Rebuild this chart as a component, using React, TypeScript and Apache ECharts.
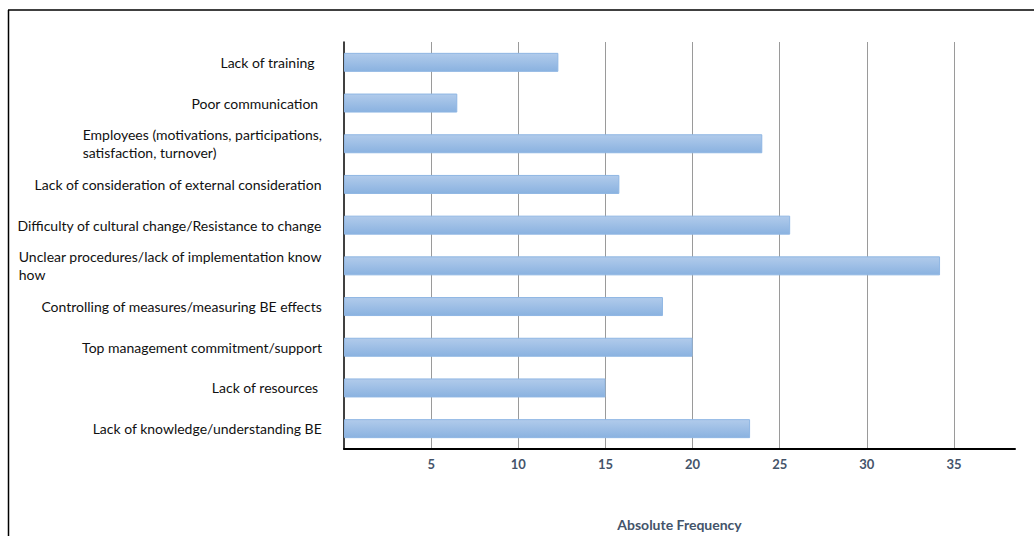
import React, { useEffect, useRef } from "react";
import * as echarts from "echarts";

const categories = [
  "Lack of training  ",
  "Poor communication ",
  "Employees (motivations, participations,\nsatisfaction, turnover)",
  "Lack of consideration of external consideration",
  "Difficulty of cultural change/Resistance to change",
  "Unclear procedures/lack of implementation know\nhow",
  "Controlling of measures/measuring BE effects",
  "Top management commitment/support",
  "Lack of resources ",
  "Lack of knowledge/understanding BE",
];
const frequencies = [12.3, 6.5, 24, 15.8, 25.6, 34.2, 18.3, 20, 15, 23.3];
const axisTitle = "Absolute Frequency";

export default function App() {
  const ref = useRef<HTMLDivElement>(null);
  useEffect(() => {
    if (!ref.current) return;
    const chart = echarts.init(ref.current, null, { renderer: "svg" });
    chart.setOption({
      animation: false,
      backgroundColor: "#ffffff",
      grid: { left: 344, right: 19, top: 42, bottom: 78 },
      xAxis: {
        type: "value",
        min: 0,
        max: 38.5,
        interval: 5,
        name: axisTitle,
        nameLocation: "middle",
        nameGap: 68,
        nameTextStyle: {
          color: "#44546a",
          fontFamily: "Lato",
          fontWeight: "bold",
          fontSize: 14,
        },
        axisLine: { show: true, lineStyle: { color: "#000", width: 2 } },
        axisTick: { show: false },
        axisLabel: {
          showMinLabel: false,
          showMaxLabel: false,
          margin: 8,
          color: "#44546a",
          fontFamily: "Lato",
          fontWeight: "bold",
          fontSize: 13,
        },
        splitLine: {
          show: true,
          showMinLine: false,
          showMaxLine: false,
          lineStyle: { color: "#9a9a9a", width: 1 },
        },
      },
      yAxis: {
        type: "category",
        inverse: true,
        data: categories,
        axisLine: { show: true, lineStyle: { color: "#000", width: 1.5 } },
        axisTick: { show: false },
        axisLabel: {
          margin: 22,
          formatter: (v: string) =>
            v
              .split("\n")
              .map((l) => `{a|${l}}`)
              .join("\n"),
          rich: {
            a: {
              align: "left",
              fontFamily: "Lato",
              fontSize: 14,
              color: "#111",
              lineHeight: 18,
            },
          },
        },
      },
      series: [
        {
          type: "bar",
          data: frequencies,
          barWidth: 19,
          itemStyle: {
            color: new echarts.graphic.LinearGradient(0, 0, 0, 1, [
              { offset: 0, color: "#b1cbeb" },
              { offset: 1, color: "#8ab2e0" },
            ]),
            borderColor: "#8fb6e3",
            borderWidth: 1,
          },
        },
      ],
      graphic: [
        {
          type: "line",
          shape: { x1: 8, y1: 10, x2: 1034, y2: 10 },
          style: { stroke: "#000", lineWidth: 1.5 },
        },
        {
          type: "line",
          shape: { x1: 8.5, y1: 10, x2: 8.5, y2: 536 },
          style: { stroke: "#000", lineWidth: 1.5 },
        },
      ],
    });
    return () => chart.dispose();
  }, []);
  return (
    <div
      ref={ref}
      style={{ position: "fixed", left: 0, top: 0, width: 1034, height: 536 }}
    />
  );
}
